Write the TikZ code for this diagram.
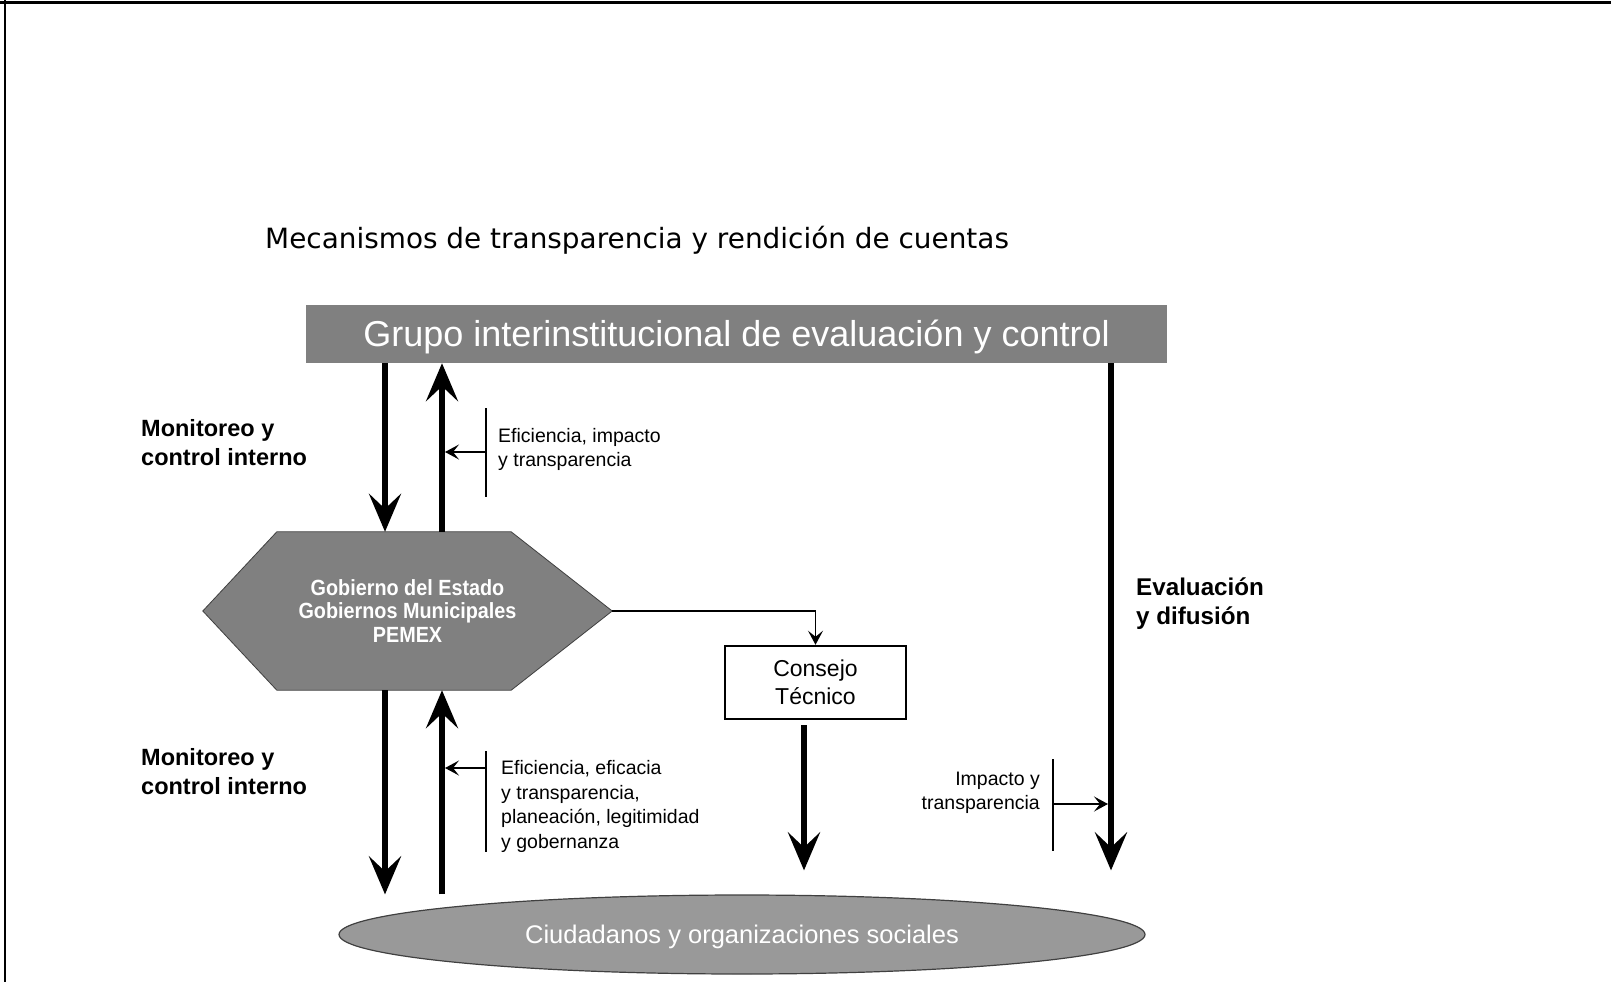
\documentclass[tikz,border=0pt]{standalone}
\usepackage{fontspec}
\setmainfont{Liberation Sans}
\newfontfamily\titlefont{DejaVu Sans}
\newfontfamily\narrowfont[FakeStretch=0.9]{Liberation Sans}
\usetikzlibrary{arrows.meta, positioning, shapes.geometric}
\definecolor{boxgray}{HTML}{808080}
\definecolor{ellgray}{HTML}{999999}
\definecolor{edgegray}{HTML}{404040}

\begin{document}
\begin{tikzpicture}[
    x=1pt, y=-1pt,
    every node/.style={inner sep=0pt},
    bigarrow/.style={line width=6pt, -{Stealth[length=38pt, width=32pt, inset=15pt]}},
    thinarrow/.style={line width=1.4pt, -{Stealth[length=14pt, width=15pt, inset=6pt]}},
    thinline/.style={line width=1.4pt},
    boldlabel/.style={font=\fontsize{23.5}{29}\selectfont\bfseries, align=left, anchor=west},
    smalllabel/.style={font=\fontsize{19.5}{24}\selectfont, align=left, anchor=west},
  ]

  % Frame and page size
  \useasboundingbox (0,0) rectangle (1611,982);
  \draw[line width=3pt] (0,2.5) -- (1611,2.5);
  \draw[line width=2pt] (5,0) -- (5,982);

  % === Title ===
  \node[font=\titlefont\fontsize{27.9}{32}\selectfont, anchor=west] (title)
    at (265,240) {Mecanismos de transparencia y rendición de cuentas};

  % === Grupo interinstitucional ===
  \node[fill=boxgray, text=white, minimum width=861pt, minimum height=58pt,
        text height=26pt, text depth=1.6pt,
        font=\fontsize{36}{40}\selectfont] (grupo) at (736.5,334)
    {Grupo interinstitucional de evaluación y control};

  % === Hexagon (gobiernos) ===
  \node[minimum width=409pt, minimum height=158pt] (gob) at (407.5,611) {};
  \filldraw[fill=boxgray, draw=edgegray, line width=0.8pt]
    (gob.west) -- ([xshift=74pt]gob.north west) -- ([xshift=-101pt]gob.north east)
    -- (gob.east) -- ([xshift=-101pt]gob.south east) -- ([xshift=74pt]gob.south west) -- cycle;
  \node[text=white, align=center, font=\narrowfont\fontsize{22}{23.5}\selectfont\bfseries]
    (gobtext) at (gob.center)
    {Gobierno del Estado\\Gobiernos Municipales\\PEMEX};

  % === Consejo Tecnico ===
  \node[draw, line width=2.5pt, minimum width=181pt, minimum height=73pt, align=center,
        font=\fontsize{23}{28}\selectfont] (consejo) at (815.5,682.5)
    {Consejo\\Técnico};

  % === Ciudadanos (ellipse) ===
  \node[ellipse, fill=ellgray, draw=edgegray, line width=1.2pt, minimum width=806pt,
        minimum height=79pt, text=white, text height=18.6pt, text depth=1.4pt,
        font=\fontsize{25.5}{28}\selectfont] (ciud)
    at (742,934.5) {Ciudadanos y organizaciones sociales};

  % Columns of the big arrows
  \coordinate (colA) at (385,0);
  \coordinate (colB) at (442,0);
  \coordinate (colC) at (804,0);
  \coordinate (colD) at (1111,0);

  % Big arrows
  \draw[bigarrow] (grupo.south -| colA) -- (gob.north -| colA);
  \draw[bigarrow] (gob.north -| colB) -- (grupo.south -| colB);
  \draw[bigarrow] (gob.south -| colA) -- (ciud.north -| colA);
  \draw[bigarrow] (ciud.north -| colB) -- (gob.south -| colB);
  \draw[bigarrow] ([yshift=-5pt]consejo.south -| colC) -- ([yshift=24pt]ciud.north -| colC);
  \draw[bigarrow] (grupo.south -| colD) -- ([yshift=24pt]ciud.north -| colD);

  % Gobiernos to Consejo
  \draw[thinarrow] (gob.east) -| (consejo.north);

  % Brackets with small arrows
  \coordinate (brkup) at (486,452);
  \coordinate (brklow) at (486,768);
  \coordinate (brkright) at (1053,804);
  \draw[thinline] (486,408) -- (486,497);
  \draw[thinline] (486,751) -- (486,852);
  \draw[thinline] (1053,759) -- (1053,851);
  \draw[thinarrow] (brkup) -- ([xshift=3pt]brkup -| colB);
  \draw[thinarrow] (brklow) -- ([xshift=3pt]brklow -| colB);
  \draw[thinarrow] (brkright) -- ([xshift=-3pt]brkright -| colD);

  % Labels
  \node[smalllabel] (effup) at (498,449) {Eficiencia, impacto\\y transparencia};
  \node[smalllabel, font=\fontsize{19.5}{24.5}\selectfont] (efflow) at (501,806.5)
    {Eficiencia, eficacia\\y transparencia,\\planeación, legitimidad\\y gobernanza};
  \node[smalllabel, anchor=east, align=right] (impacto) at (1040,793)
    {Impacto y\\transparencia};
  \node[boldlabel] (monup) at (141,442.5) {Monitoreo y\\control interno};
  \node[boldlabel] (monlow) at (141,772) {Monitoreo y\\control interno};
  \node[boldlabel, font=\fontsize{24.2}{29}\selectfont\bfseries] (evalua) at (1136,604)
    {Evaluación\\y difusión};

\end{tikzpicture}
\end{document}
